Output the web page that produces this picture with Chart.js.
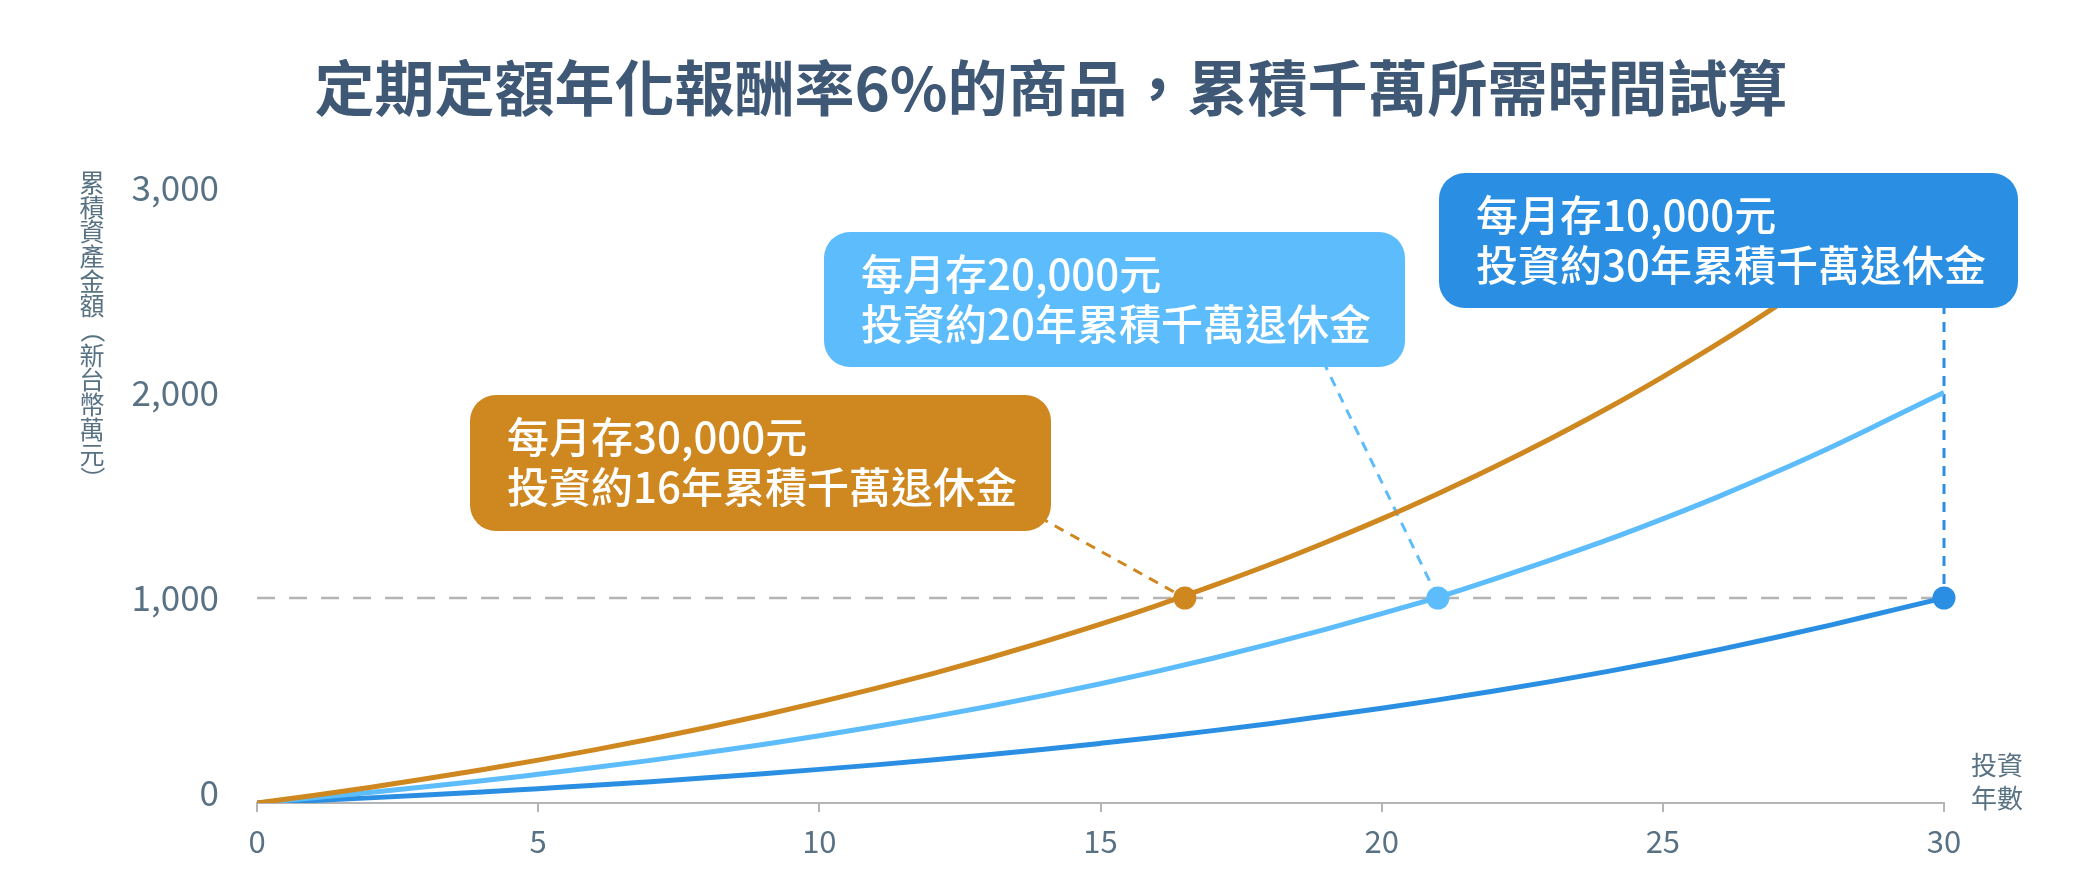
<!DOCTYPE html>
<html><head><meta charset="utf-8">
<script src="https://cdn.jsdelivr.net/npm/chart.js@4"></script>
<style>html,body{margin:0;padding:0;background:#fff;}#wrap{width:2100px;height:870px;}</style>
</head><body><div id="wrap"><canvas id="c" width="2100" height="870"></canvas></div>
<script>
// ---- data ----
const titleText = '定期定額年化報酬率6%的商品，累積千萬所需時間試算';
const yAxisTitle = '累積資產金額（新台幣萬元）';
const xAxisTitle = ['投資', '年數'];
const years = [0,1,2,3,4,5,6,7,8,9,10,11,12,13,14,15,16,17,18,19,20,21,22,23,24,25,26,27,28,29,30];
const save30k = [0,37,76,118,162,209,259,312,368,428,492,559,630,706,787,872,963,1060,1162,1271,1386,1509,1639,1777,1923,2079,2244,2420,2606,2803,3014];
const save20k = [0,25,51,79,108,140,173,208,246,285,328,373,420,471,525,582,642,706,775,847,924,1003,1092,1185,1282,1386,1496,1613,1737,1869,2003];
const save10k = [0,12,25,39,54,70,86,104,123,143,164,186,210,235,262,291,321,353,387,424,462,503,546,592,641,693,748,807,869,935,1000];
const seriesNames = ['每月存30,000元', '每月存20,000元', '每月存10,000元'];
const targetYears = [16.5, 21, 30];
const targetValue = 1000;
const calloutLine1 = ['每月存30,000元', '每月存20,000元', '每月存10,000元'];
const calloutLine2 = ['投資約16年累積千萬退休金', '投資約20年累積千萬退休金', '投資約30年累積千萬退休金'];
const yTickValues = [0, 1000, 2000, 3000];
const yTickLabels = ['0', '1,000', '2,000', '3,000'];
const xTickValues = [0, 5, 10, 15, 20, 25, 30];
const xTickLabels = ['0', '5', '10', '15', '20', '25', '30'];

// ---- styles ----
const colors = ['#CF871F', '#5CBCFC', '#2A8FE2'];
const FONT = '"Noto Sans CJK TC", "Noto Sans", sans-serif';
const textColor = '#587284';
const boxes = [
  {x: 470, y: 395, w: 581, h: 136, lx: -12, ly: -14},
  {x: 824, y: 232, w: 581, h: 135, lx: -82, ly: -6},
  {x: 1439, y: 173, w: 579, h: 135, lx: null, ly: -4}
];

const pts = arr => years.map((yr, i) => ({x: yr, y: arr[i]}));
const curves = [save30k, save20k, save10k];

const datasets = [];
targetYears.forEach((ty, i) => datasets.push({
  label: seriesNames[i] + ' 目標', data: [{x: ty, y: targetValue}], showLine: false, clip: false,
  pointRadius: 11.5, pointHoverRadius: 11.5, pointBackgroundColor: colors[i], pointBorderWidth: 0, order: 0
}));
curves.forEach((arr, i) => datasets.push({
  label: seriesNames[i], data: pts(arr), borderColor: colors[i], borderWidth: 5,
  pointRadius: 0, tension: 0.4, cubicInterpolationMode: 'monotone', fill: false, order: 1
}));
datasets.push({
  label: '1000', data: [{x: years[0], y: targetValue}, {x: years[years.length-1], y: targetValue}],
  borderColor: '#B4B4B4', borderWidth: 2.5, borderDash: [18, 14], pointRadius: 0, order: 2
});

function roundRect(ctx, x, y, w, h, r) {
  ctx.beginPath();
  ctx.moveTo(x + r, y);
  ctx.arcTo(x + w, y, x + w, y + h, r);
  ctx.arcTo(x + w, y + h, x, y + h, r);
  ctx.arcTo(x, y + h, x, y, r);
  ctx.arcTo(x, y, x + w, y, r);
  ctx.closePath();
}

const decor = {
  id: 'decor',
  beforeDatasetsDraw(chart) {
    const ctx = chart.ctx, xs = chart.scales.x, ys = chart.scales.y;
    ctx.save();
    targetYears.forEach((ty, i) => {
      const b = boxes[i];
      const px = xs.getPixelForValue(ty), py = ys.getPixelForValue(targetValue);
      const sx = b.lx === null ? px : b.x + b.w + b.lx;
      const sy = b.y + b.h + b.ly;
      ctx.strokeStyle = colors[i];
      ctx.lineWidth = 3;
      ctx.setLineDash([10, 8]);
      ctx.beginPath(); ctx.moveTo(sx, sy); ctx.lineTo(px, py); ctx.stroke();
    });
    ctx.restore();
  },
  afterDatasetsDraw(chart) {
    const ctx = chart.ctx;
    ctx.save();
    boxes.forEach((b, i) => {
      ctx.fillStyle = colors[i];
      roundRect(ctx, b.x, b.y, b.w, b.h, 26);
      ctx.fill();
      ctx.fillStyle = '#ffffff';
      ctx.font = '500 42px ' + FONT;
      ctx.textAlign = 'left';
      ctx.textBaseline = 'middle';
      ctx.fillText(calloutLine1[i], b.x + 37, b.y + 42);
      ctx.fillText(calloutLine2[i], b.x + 37, b.y + 92);
    });
    ctx.restore();
  },
  afterDraw(chart) {
    const ctx = chart.ctx, ys = chart.scales.y;
    ctx.save();
    ctx.fillStyle = '#3E5876';
    ctx.font = 'bold 60px ' + FONT;
    ctx.textAlign = 'center';
    ctx.textBaseline = 'middle';
    ctx.fillText(titleText, 1051, 88);
    // y tick labels (0 lifted slightly above the axis, as in the original)
    ctx.fillStyle = textColor;
    ctx.font = '400 35px ' + FONT;
    ctx.textAlign = 'right';
    yTickValues.forEach((v, k) => {
      const py = ys.getPixelForValue(v) - (v === 0 ? 10 : 0);
      ctx.fillText(yTickLabels[k], 219, py);
    });
    // vertical y-axis title
    ctx.textAlign = 'center';
    ctx.font = '400 25px ' + FONT;
    const chars = Array.from(yAxisTitle);
    chars.forEach((ch, i) => {
      const cy = 170 + 24.7 * (i + 0.5);
      if (ch === '（' || ch === '）') {
        ctx.save();
        ctx.translate(92, cy);
        ctx.rotate(Math.PI / 2);
        ctx.fillText(ch, 0, 0);
        ctx.restore();
      } else {
        ctx.fillText(ch, 92, cy);
      }
    });
    // x-axis title
    ctx.font = '400 26px ' + FONT;
    ctx.fillText(xAxisTitle[0], 1997, 765);
    ctx.fillText(xAxisTitle[1], 1997, 798);
    ctx.restore();
  }
};

new Chart(document.getElementById('c'), {
  type: 'line',
  data: {datasets},
  options: {
    responsive: false, animation: false, devicePixelRatio: 1,
    layout: {padding: {top: 188, right: 156, left: 0, bottom: 0}},
    plugins: {legend: {display: false}, tooltip: {enabled: false}},
    scales: {
      x: {
        type: 'linear', min: 0, max: 30,
        afterFit: s => { s.height = 67; },
        afterBuildTicks: s => { s.ticks = xTickValues.map(v => ({value: v})); },
        grid: {display: true, drawOnChartArea: false, drawTicks: true, tickLength: 9, color: '#B4B4B4', lineWidth: 2},
        border: {display: true, color: '#B4B4B4', width: 2},
        ticks: {autoSkip: false, maxRotation: 0, padding: 11, color: textColor,
          font: {family: FONT, size: 31},
          callback: v => { const k = xTickValues.indexOf(v); return k >= 0 ? xTickLabels[k] : ''; }}
      },
      y: {
        type: 'linear', min: 0, max: 3000,
        afterFit: s => { s.width = 257; },
        afterBuildTicks: s => { s.ticks = yTickValues.map(v => ({value: v})); },
        grid: {display: false},
        border: {display: false},
        ticks: {display: false}
      }
    }
  },
  plugins: [decor]
});
</script></body></html>
